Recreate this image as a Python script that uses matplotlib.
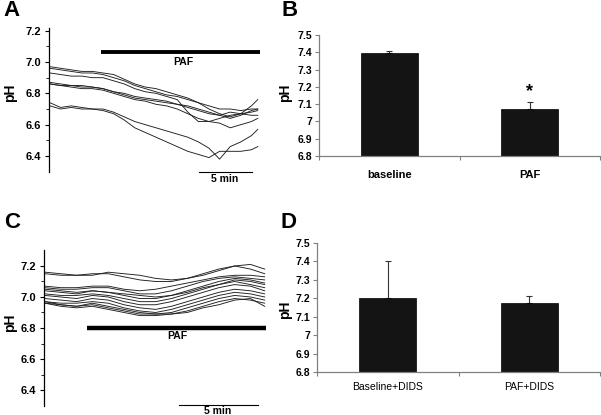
import numpy as np
import matplotlib
matplotlib.use('Agg')
import matplotlib.pyplot as plt
from matplotlib.ticker import MultipleLocator, FixedLocator

plt.rcParams['font.family'] = ['Liberation Sans', 'DejaVu Sans']

# ---- panel A: pHi traces, PAF added at ~4.8 min ----
a_time = [0, 1, 2, 3, 4, 5, 6, 7, 8, 9, 10, 11, 12, 13, 14, 15, 16, 17, 18, 19, 19.6]
a_traces = [
    [6.97, 6.96, 6.95, 6.94, 6.94, 6.93, 6.92, 6.89, 6.86, 6.84, 6.83, 6.81, 6.79, 6.77, 6.74, 6.72, 6.70, 6.70, 6.69, 6.70, 6.70],
    [6.96, 6.95, 6.94, 6.93, 6.93, 6.92, 6.90, 6.88, 6.85, 6.83, 6.81, 6.79, 6.78, 6.76, 6.74, 6.70, 6.67, 6.65, 6.67, 6.72, 6.76],
    [6.93, 6.92, 6.91, 6.91, 6.90, 6.90, 6.88, 6.86, 6.83, 6.81, 6.80, 6.78, 6.76, 6.68, 6.62, 6.62, 6.64, 6.66, 6.67, 6.68, 6.69],
    [6.87, 6.86, 6.85, 6.85, 6.84, 6.83, 6.81, 6.79, 6.77, 6.76, 6.75, 6.74, 6.73, 6.72, 6.70, 6.68, 6.66, 6.64, 6.66, 6.69, 6.70],
    [6.86, 6.85, 6.84, 6.83, 6.83, 6.82, 6.80, 6.78, 6.76, 6.75, 6.73, 6.72, 6.70, 6.67, 6.64, 6.62, 6.61, 6.58, 6.60, 6.62, 6.64],
    [6.86, 6.85, 6.85, 6.84, 6.84, 6.83, 6.81, 6.80, 6.78, 6.77, 6.76, 6.75, 6.73, 6.71, 6.69, 6.67, 6.66, 6.68, 6.67, 6.66, 6.66],
    [6.74, 6.71, 6.72, 6.71, 6.70, 6.70, 6.68, 6.65, 6.62, 6.60, 6.58, 6.56, 6.54, 6.52, 6.49, 6.45, 6.38, 6.46, 6.49, 6.53, 6.57],
    [6.72, 6.70, 6.71, 6.70, 6.70, 6.69, 6.67, 6.63, 6.58, 6.55, 6.52, 6.49, 6.46, 6.43, 6.41, 6.39, 6.43, 6.43, 6.43, 6.44, 6.46],
]
a_paf = (4.8, 19.8)
a_scale = (14.06, 19.06)

# ---- panel B: mean pHi ----
b_labels = ['baseline', 'PAF']
b_means = [7.394, 7.07]
b_err = [0.016, 0.044]

# ---- panel C: traces with DIDS ----
c_time = [0, 1, 2, 3, 4, 5, 6, 7, 8, 9, 10, 11, 12, 13, 13.9]
c_traces = [
    [7.16, 7.15, 7.14, 7.14, 7.16, 7.15, 7.14, 7.12, 7.11, 7.12, 7.14, 7.17, 7.20, 7.21, 7.18],
    [7.15, 7.14, 7.14, 7.15, 7.15, 7.13, 7.11, 7.10, 7.10, 7.12, 7.15, 7.18, 7.20, 7.18, 7.15],
    [7.07, 7.06, 7.06, 7.07, 7.07, 7.05, 7.04, 7.05, 7.07, 7.09, 7.11, 7.13, 7.14, 7.14, 7.13],
    [7.06, 7.05, 7.05, 7.06, 7.06, 7.04, 7.02, 7.02, 7.04, 7.07, 7.10, 7.12, 7.13, 7.12, 7.11],
    [7.05, 7.04, 7.03, 7.04, 7.03, 7.01, 6.99, 6.99, 7.01, 7.04, 7.07, 7.10, 7.12, 7.11, 7.09],
    [7.04, 7.03, 7.02, 7.04, 7.03, 7.02, 7.01, 7.00, 7.01, 7.03, 7.06, 7.08, 7.11, 7.10, 7.08],
    [7.02, 7.01, 7.01, 7.02, 7.01, 6.99, 6.97, 6.97, 6.99, 7.02, 7.05, 7.08, 7.10, 7.08, 7.06],
    [7.01, 7.00, 6.99, 7.01, 7.00, 6.97, 6.95, 6.95, 6.97, 7.00, 7.03, 7.06, 7.08, 7.07, 7.04],
    [6.99, 6.98, 6.97, 6.99, 6.98, 6.95, 6.93, 6.92, 6.94, 6.97, 7.00, 7.03, 7.05, 7.04, 7.02],
    [6.97, 6.96, 6.96, 6.97, 6.96, 6.93, 6.91, 6.90, 6.92, 6.95, 6.98, 7.01, 7.03, 7.02, 7.00],
    [6.97, 6.95, 6.94, 6.96, 6.94, 6.92, 6.90, 6.89, 6.90, 6.93, 6.96, 6.99, 7.01, 7.00, 6.98],
    [6.96, 6.95, 6.94, 6.95, 6.93, 6.91, 6.89, 6.89, 6.89, 6.91, 6.94, 6.97, 6.99, 6.98, 6.96],
    [6.96, 6.94, 6.93, 6.94, 6.92, 6.90, 6.88, 6.88, 6.89, 6.90, 6.93, 6.95, 6.98, 6.99, 6.94],
]
c_paf = (2.66, 14.0)
c_scale = (8.48, 13.48)

# ---- panel D ----
d_labels = ['Baseline+DIDS', 'PAF+DIDS']
d_means = [7.20, 7.172]
d_err = [0.20, 0.038]

W, H = 601, 415
fig = plt.figure(figsize=(W / 100, H / 100), dpi=100)


def px_axes(l, t, r, b):
    return fig.add_axes([l / W, 1 - b / H, (r - l) / W, (b - t) / H])


def trace_panel(ax, time, traces, ylim, ytop, paf, paf_y, paf_txt, scale, scale_y, scale_txt, lw_bar):
    for tr in traces:
        ax.plot(time, tr, color='#1e1e1e', lw=0.65)
    ax.set_ylim(*ylim)
    for s in ['top', 'right', 'bottom']:
        ax.spines[s].set_visible(False)
    ax.spines['left'].set_bounds(6.3, ytop)
    ax.spines['left'].set_linewidth(0.9)
    ax.set_xticks([])
    ax.yaxis.set_major_locator(FixedLocator([6.4, 6.6, 6.8, 7.0, 7.2]))
    ax.yaxis.set_minor_locator(FixedLocator([6.5, 6.7, 6.9, 7.1]))
    ax.yaxis.set_major_formatter(matplotlib.ticker.FormatStrFormatter('%.1f'))
    ax.tick_params(axis='y', which='major', length=3, width=0.8, labelsize=8, pad=3)
    ax.tick_params(axis='y', which='minor', length=2, width=0.6)
    for lab in ax.get_yticklabels():
        lab.set_fontweight('bold')
    ax.plot(paf, [paf_y, paf_y], color='black', lw=lw_bar, solid_capstyle='butt', clip_on=False)
    ax.text(paf_txt[0], paf_txt[1], 'PAF', ha='center', va='center', fontsize=7.5, fontweight='bold')
    ax.plot(scale, [scale_y, scale_y], color='black', lw=0.8, clip_on=False)
    ax.text(scale_txt[0], scale_txt[1], '5 min', ha='center', va='center', fontsize=7.5, fontweight='bold')


def bar_panel(ax, labels, means, err, bold_x):
    x = np.arange(len(labels))
    ax.bar(x, [m - 6.8 for m in means], bottom=6.8, width=0.405, color='#141414', edgecolor='black', lw=0.5, zorder=2)
    ax.errorbar(x, means, yerr=[[0] * len(err), err], fmt='none', ecolor='#333333', elinewidth=0.8,
                capsize=2.5, capthick=0.8, zorder=1)
    ax.set_xlim(-0.5, 1.5)
    ax.set_ylim(6.8, 7.5)
    ax.yaxis.set_major_locator(MultipleLocator(0.1))
    ax.yaxis.set_major_formatter(matplotlib.ticker.FuncFormatter(lambda v, p: ('%.1f' % v).replace('7.0', '7')))
    ax.set_xticks([-0.5, 0.5, 1.5])
    ax.set_xticklabels(['', '', ''])
    ax.set_xticks(x, minor=True)
    if bold_x:
        ax.set_xticklabels(labels, minor=True, fontsize=8, fontweight='bold')
        ax.tick_params(axis='x', which='minor', length=0, pad=10)
    else:
        ax.set_xticklabels(labels, minor=True, fontsize=7.5)
        ax.tick_params(axis='x', which='minor', length=0, pad=7)
    ax.tick_params(axis='x', which='major', length=3, color='#808080', width=0.8)
    ax.tick_params(axis='y', length=3, color='#808080', width=0.8, labelsize=7.5, pad=2)
    for lab in ax.get_yticklabels():
        lab.set_fontweight('bold')
    for s in ['top', 'right']:
        ax.spines[s].set_visible(False)
    for s in ['left', 'bottom']:
        ax.spines[s].set_color('#808080')
        ax.spines[s].set_linewidth(0.9)


# A
axA = px_axes(49, 28, 262, 185)
axA.set_xlim(-0.094, 20.0)
trace_panel(axA, a_time, a_traces, (6.215, 7.217), 7.217, a_paf, 7.066, (12.6, 7.0),
            a_scale, 6.30, (16.5, 6.253), 2.8)

# B
axB = px_axes(319, 35, 600, 156)
bar_panel(axB, b_labels, b_means, b_err, True)
axB.text(1, 7.17, '*', ha='center', va='center', fontsize=13, fontweight='bold')

# C
axC = px_axes(44, 250, 268, 415)
axC.set_xlim(-0.063, 14.11)
trace_panel(axC, c_time, c_traces, (6.239, 7.303), 7.303, c_paf, 6.80, (8.35, 6.746),
            c_scale, 6.303, (10.9, 6.265), 3.2)

# D
axD = px_axes(317, 243, 600, 372)
bar_panel(axD, d_labels, d_means, d_err, False)

# panel letters and y labels
for letter, x, y in [('A', 12, 11), ('B', 290, 11), ('C', 12, 222), ('D', 289, 222)]:
    fig.text(x / W, 1 - y / H, letter, fontsize=16, fontweight='bold', ha='center', va='center')
for x, y in [(10, 93), (285, 93), (10, 323), (285, 310)]:
    fig.text(x / W, 1 - y / H, 'pH', fontsize=10, fontweight='bold', rotation=90, ha='center', va='center')

fig.savefig('out.png', dpi=100)
